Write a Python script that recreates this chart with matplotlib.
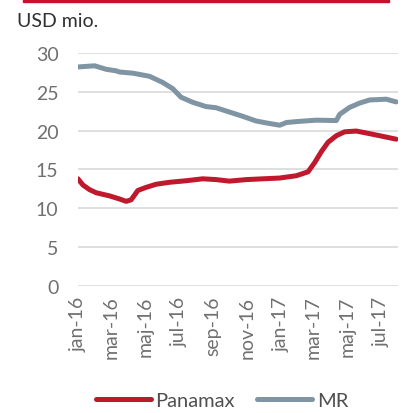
"""Recreate the Panamax / MR newbuilding price chart (USD mio.)."""

import matplotlib
import matplotlib.pyplot as plt
import pandas as pd
from matplotlib.patches import Rectangle

PANAMAX_DATES = [
    "2016-01-01", "2016-01-10", "2016-01-22", "2016-02-03", "2016-02-15",
    "2016-02-27", "2016-03-16", "2016-03-28", "2016-04-06", "2016-04-18",
    "2016-05-03", "2016-05-21", "2016-06-14", "2016-07-14", "2016-08-13",
    "2016-09-06", "2016-09-30", "2016-10-31", "2016-11-30", "2016-12-30",
    "2017-01-29", "2017-02-19", "2017-03-03", "2017-03-15", "2017-03-27",
    "2017-04-11", "2017-04-26", "2017-05-17", "2017-06-04", "2017-06-28",
    "2017-07-28",
]
PANAMAX = [
    13.8, 13.0, 12.4, 12.0, 11.8,
    11.6, 11.2, 10.9, 11.1, 12.3,
    12.7, 13.1, 13.35, 13.55, 13.8,
    13.7, 13.5, 13.7, 13.8, 13.9,
    14.2, 14.7, 15.9, 17.3, 18.5,
    19.35, 19.85, 19.95, 19.7, 19.35,
    18.9,
]

MR_DATES = [
    "2016-01-01", "2016-01-31", "2016-02-21", "2016-03-10", "2016-03-16",
    "2016-04-09", "2016-05-09", "2016-06-02", "2016-06-20", "2016-07-05",
    "2016-07-26", "2016-08-19", "2016-09-06", "2016-09-30", "2016-10-24",
    "2016-11-17", "2016-12-05", "2016-12-30", "2017-01-11", "2017-02-04",
    "2017-03-06", "2017-04-11", "2017-04-17", "2017-05-05", "2017-05-23",
    "2017-06-10", "2017-07-10", "2017-07-28",
]
MR = [
    28.2, 28.35, 27.9, 27.7, 27.55,
    27.4, 27.0, 26.2, 25.4, 24.3,
    23.65, 23.1, 22.95, 22.4, 21.85,
    21.25, 21.0, 20.7, 21.05, 21.2,
    21.35, 21.3, 22.1, 23.0, 23.55,
    23.95, 24.05, 23.7,
]

TICK_DATES = [
    "2016-01-01", "2016-03-01", "2016-05-01", "2016-07-01", "2016-09-01",
    "2016-11-01", "2017-01-01", "2017-03-01", "2017-05-01", "2017-07-01",
]
TICK_LABELS = [
    "jan-16", "mar-16", "maj-16", "jul-16", "sep-16",
    "nov-16", "jan-17", "mar-17", "maj-17", "jul-17",
]
Y_TICKS = [0, 5, 10, 15, 20, 25, 30]

RED = "#C0182C"
GREY = "#7F95A3"


def main():
    """Draw the chart and write out.png.

    :return: None.
    """
    matplotlib.use("Agg")
    plt.rcParams["font.family"] = ["Lato", "DejaVu Sans"]

    figure = plt.figure(figsize=(4.06, 4.14), dpi=100)
    axis = figure.add_axes([0.192, 0.3068, 0.788, 0.5628])

    axis.plot(pd.to_datetime(PANAMAX_DATES), PANAMAX, color=RED,
              linewidth=3.6, solid_capstyle="round", label="Panamax")
    axis.plot(pd.to_datetime(MR_DATES), MR, color=GREY,
              linewidth=3.6, solid_capstyle="round", label="MR")

    axis.set_ylim(0, 30)
    axis.set_yticks(Y_TICKS)
    axis.set_xlim(pd.Timestamp("2016-01-01"), pd.Timestamp("2017-07-31"))
    axis.set_xticks(pd.to_datetime(TICK_DATES))
    axis.set_xticklabels(TICK_LABELS, rotation=90)

    axis.grid(axis="y", color="#D9D9D9", linewidth=1.2)
    axis.set_axisbelow(True)
    for spine in axis.spines.values():
        spine.set_visible(False)
    axis.tick_params(axis="both", length=0, labelsize=14, colors="#707070")
    axis.tick_params(axis="y", pad=14)
    axis.tick_params(axis="x", pad=7)

    figure.text(0.043, 0.947, "USD mio.", fontsize=14, color="#303030",
                va="center", ha="left")
    figure.add_artist(Rectangle((0.057, 0.993), 0.901, 0.01,
                                transform=figure.transFigure,
                                color="#C8102E", clip_on=False))

    figure.legend(loc="center", bbox_to_anchor=(0.547, 0.03), ncol=2,
                  frameon=False, fontsize=14.5, handlelength=2.7,
                  handletextpad=0.25, columnspacing=1.1,
                  labelcolor="#505050", borderpad=0.2)

    figure.savefig("out.png", dpi=100)
    plt.close(figure)


if __name__ == "__main__":
    main()
